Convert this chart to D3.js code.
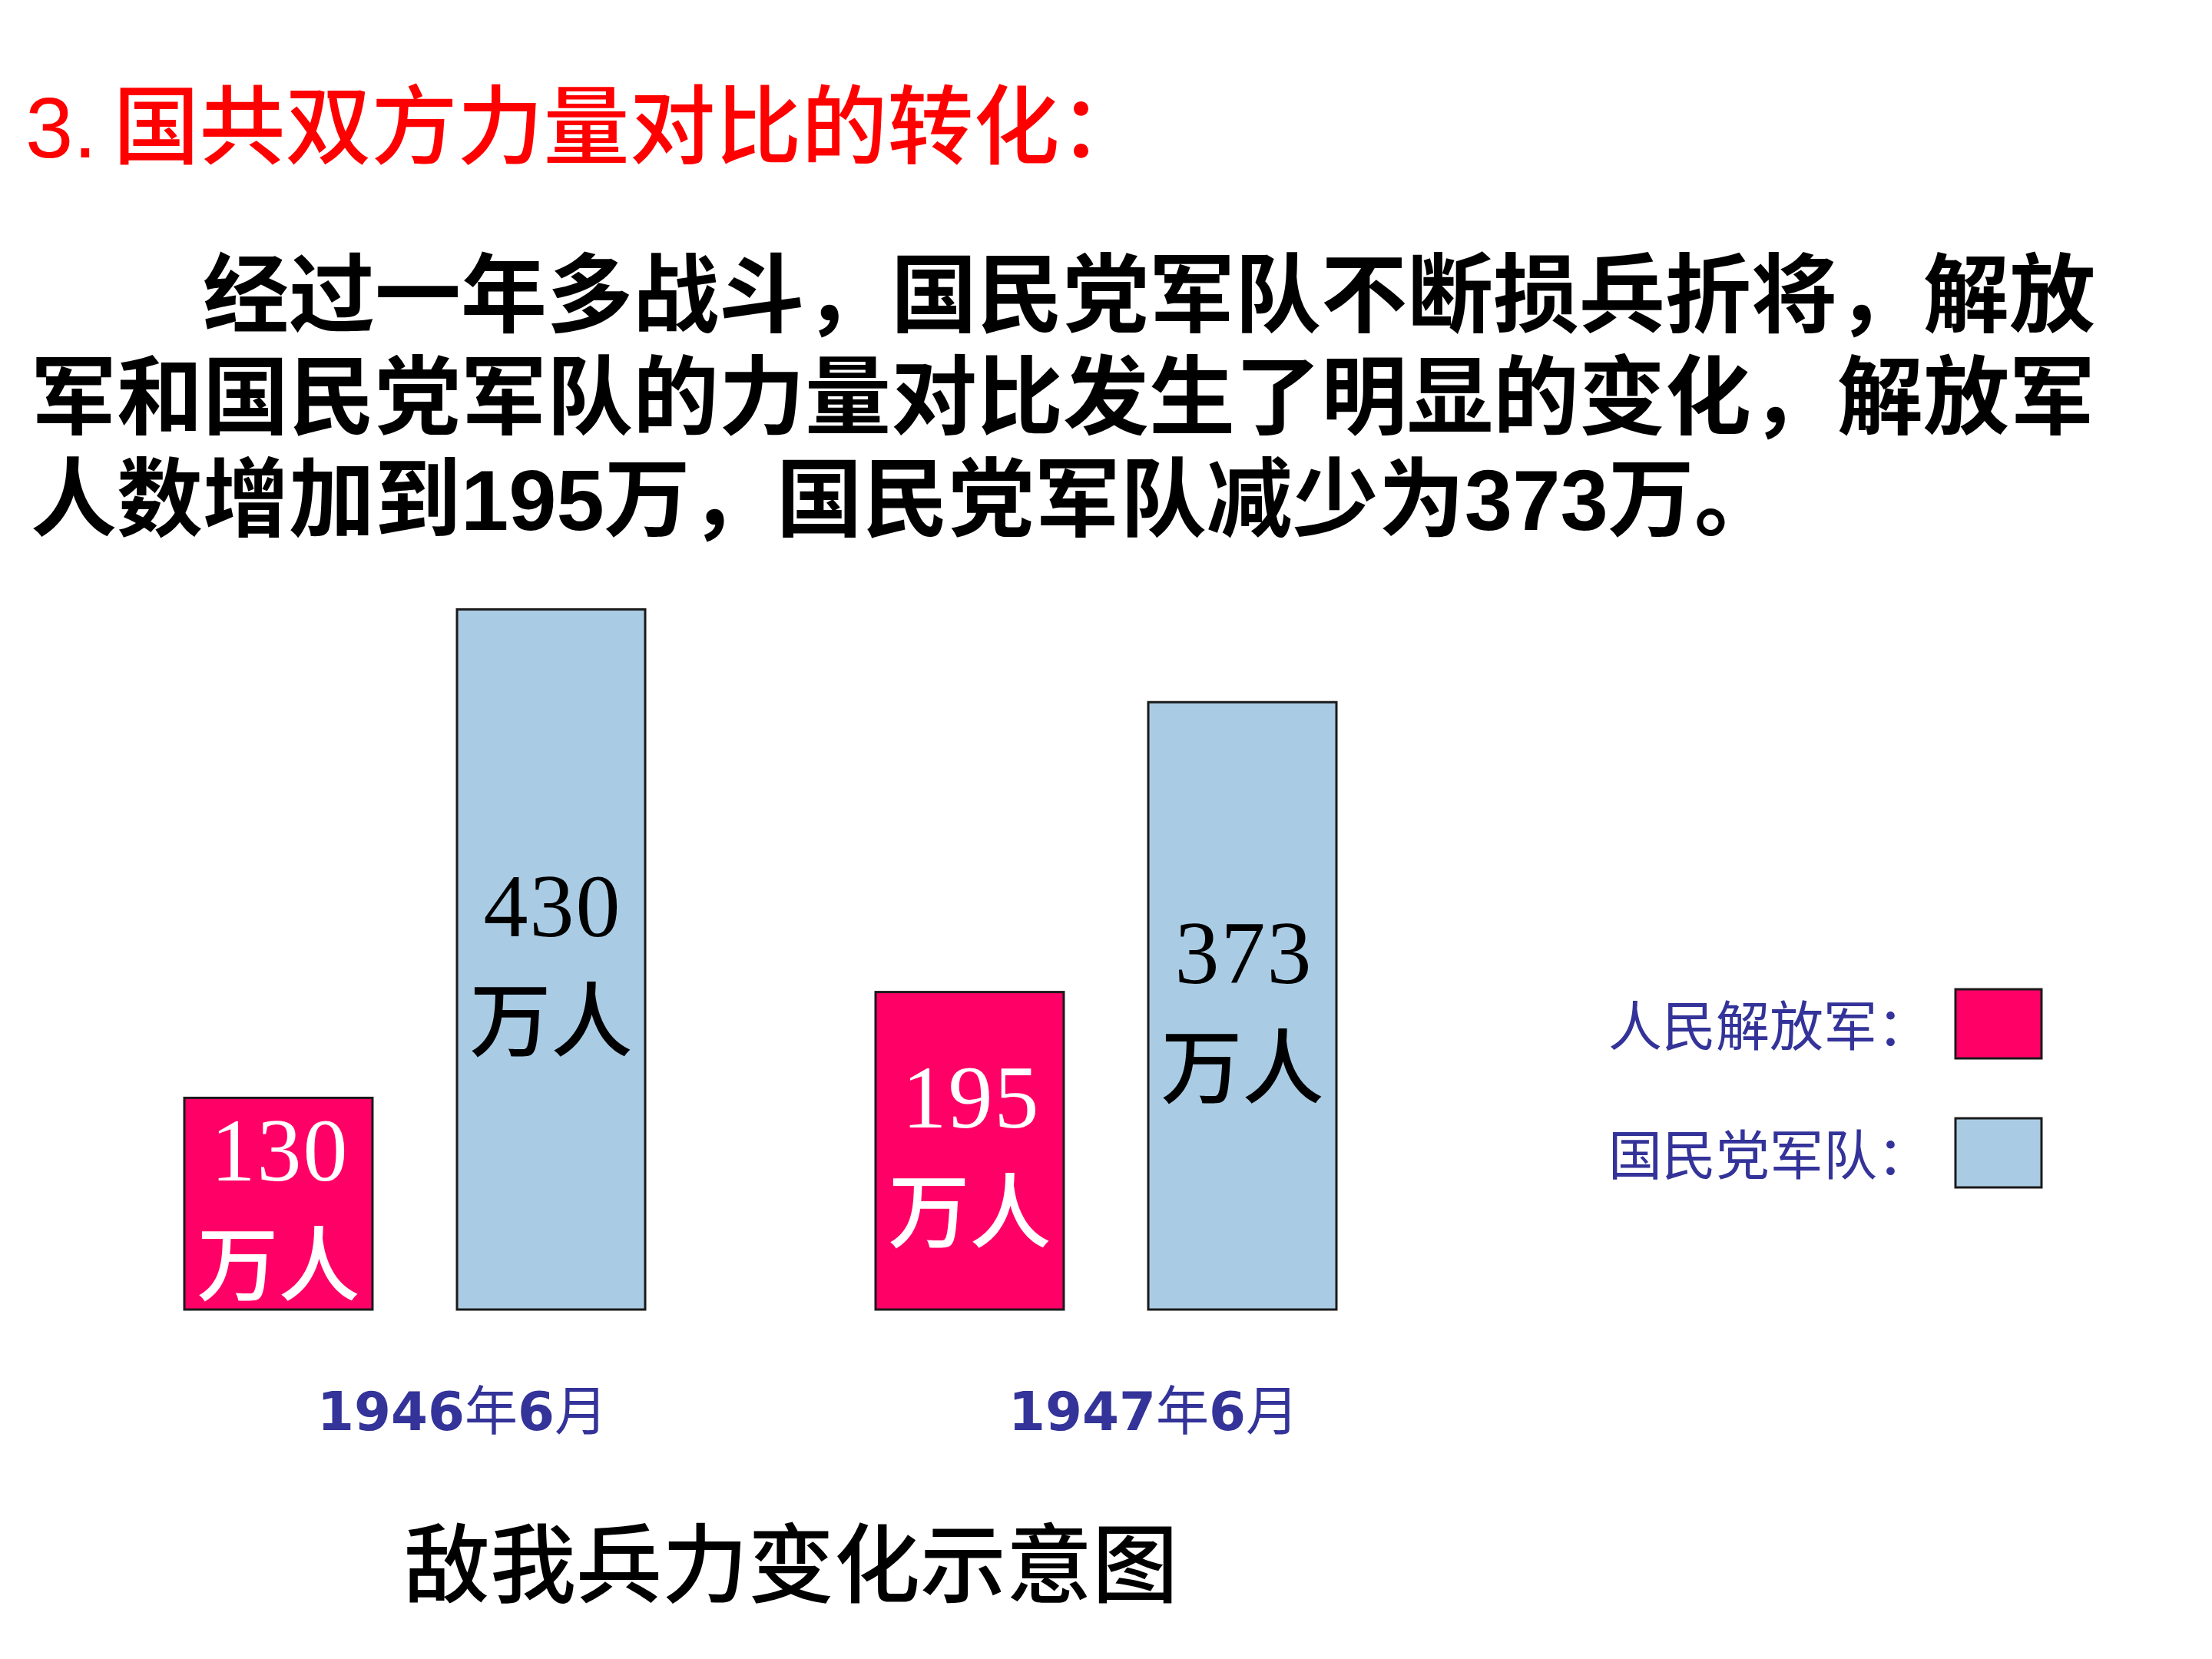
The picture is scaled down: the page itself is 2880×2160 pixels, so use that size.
<!DOCTYPE html>
<head>
  <meta charset="utf-8">
  <script src="https://d3js.org/d3.v7.min.js"></script>
  <style>
    body { margin:0;position:fixed;top:0;right:0;bottom:0;left:0;background:#fff; }
    rect.bar { stroke: #1a1a1a; stroke-width: 3px; }
  </style>
</head>

<body>
<script>
  // data
  var categories = ["1946年6月", "1947年6月"];
  var seriesNames = ["人民解放军", "国民党军队"];
  var plaValues = [130, 195];   // 万人
  var kmtValues = [430, 373];   // 万人
  var unitLabel = "万人";

  var titleNum = "3.";
  var titleText = "国共双方力量对比的转化：";
  var bodyLines = [
    "\u3000\u3000经过一年多战斗，国民党军队不断损兵折将，解放",
    "军和国民党军队的力量对比发生了明显的变化，解放军",
    "人数增加到195万，国民党军队减少为373万。"
  ];
  var chartTitle = "敌我兵力变化示意图";

  var colors = ["#ff0066", "#a9cce4"];
  var navy = "#333399";
  var cjk = "'Noto Sans CJK SC', sans-serif";

  var width = 2880, height = 2160;

  var svg = d3.select("body").append("svg")
    .attr("width", width)
    .attr("height", height);

  // build rows for the grouped bars
  var rows = categories.map(function(c, i) {
    return {category: c, values: [
      {series: seriesNames[0], value: plaValues[i], idx: 0},
      {series: seriesNames[1], value: kmtValues[i], idx: 1}
    ]};
  });

  var x0 = d3.scaleBand()
    .domain(categories)
    .range([240, 1740])
    .paddingInner(1 / 3);

  var x1 = d3.scaleBand()
    .domain(seriesNames)
    .range([0, x0.bandwidth()])
    .paddingInner(0.31);

  var baseline = 1705;
  var y = d3.scaleLinear()
    .domain([0, 430])
    .range([baseline, baseline - 430 * 2.12]);

  // heading
  var head = svg.append("text")
    .attr("x", 33)
    .attr("y", 205)
    .attr("fill", "#ff0000")
    .style("font-size", "112px")
    .style("font-weight", 500);
  head.append("tspan")
    .style("font-family", "'Liberation Sans', sans-serif")
    .text(titleNum);
  head.append("tspan")
    .attr("dx", 21)
    .style("font-family", cjk)
    .text(titleText);

  // paragraph
  svg.selectAll("text.body")
    .data(bodyLines)
    .enter().append("text")
    .attr("class", "body")
    .attr("x", 40)
    .attr("y", function(d, i) { return 424 + i * 133; })
    .attr("fill", "#000")
    .style("font-family", "'Liberation Sans', " + cjk)
    .style("font-size", "112px")
    .style("font-weight", 700)
    .text(function(d) { return d; });

  // grouped bars
  var groups = svg.selectAll("g.group")
    .data(rows)
    .enter().append("g")
    .attr("class", "group")
    .attr("transform", function(d) { return "translate(" + x0(d.category) + ",0)"; });

  var bars = groups.selectAll("g.barwrap")
    .data(function(d) { return d.values; })
    .enter().append("g")
    .attr("class", "barwrap");

  bars.append("rect")
    .attr("class", "bar")
    .attr("x", function(d) { return x1(d.series); })
    .attr("width", x1.bandwidth())
    .attr("y", function(d) { return y(d.value); })
    .attr("height", function(d) { return y(0) - y(d.value); })
    .attr("fill", function(d) { return colors[d.idx]; });

  // number + 万人 centred in each bar
  bars.append("text")
    .attr("x", function(d) { return x1(d.series) + x1.bandwidth() / 2 + 2; })
    .attr("y", function(d) { return (y(d.value) + y(0)) / 2 - 30; })
    .attr("text-anchor", "middle")
    .attr("fill", function(d) { return d.idx === 0 ? "#fff" : "#000"; })
    .style("font-family", "'Liberation Serif', serif")
    .style("font-size", "116px")
    .style("letter-spacing", "2px")
    .text(function(d) { return d.value; });

  bars.append("text")
    .attr("x", function(d) { return x1(d.series) + x1.bandwidth() / 2; })
    .attr("y", function(d) { return (y(d.value) + y(0)) / 2 + 118; })
    .attr("text-anchor", "middle")
    .attr("fill", function(d) { return d.idx === 0 ? "#fff" : "#000"; })
    .style("font-family", cjk)
    .style("font-size", "106px")
    .style("font-weight", 500)
    .text(unitLabel);

  // category labels under each group
  var catLabels = svg.selectAll("text.cat")
    .data(categories)
    .enter().append("text")
    .attr("class", "cat")
    .attr("x", function(d) { return x0(d) + x0.bandwidth() / 2 + 62; })
    .attr("y", 1862)
    .attr("text-anchor", "middle")
    .attr("fill", navy)
    .style("font-size", "69px");

  // digits bold, 年/月 lighter
  catLabels.each(function(d) {
    var t = d3.select(this);
    d.match(/\d+|[^\d]+/g).forEach(function(part) {
      var isNum = /\d/.test(part);
      t.append("tspan")
        .style("font-family", isNum ? "'DejaVu Sans', sans-serif" : cjk)
        .style("font-weight", isNum ? 700 : 400)
        .text(part);
    });
  });

  // legend
  var legend = svg.selectAll("g.legend")
    .data(seriesNames)
    .enter().append("g")
    .attr("class", "legend")
    .attr("transform", function(d, i) { return "translate(0," + (i * 168) + ")"; });

  legend.append("text")
    .attr("x", 2094)
    .attr("y", 1362)
    .attr("fill", navy)
    .style("font-family", cjk)
    .style("font-size", "70px")
    .text(function(d) { return d + "："; });

  legend.append("rect")
    .attr("class", "bar")
    .attr("x", 2546)
    .attr("y", 1288)
    .attr("width", 112)
    .attr("height", 90)
    .attr("fill", function(d, i) { return colors[i]; });

  // caption
  svg.append("text")
    .attr("x", 1030)
    .attr("y", 2078)
    .attr("text-anchor", "middle")
    .attr("fill", "#000")
    .style("font-family", cjk)
    .style("font-size", "112px")
    .style("font-weight", 500)
    .text(chartTitle);
</script>
</body>
